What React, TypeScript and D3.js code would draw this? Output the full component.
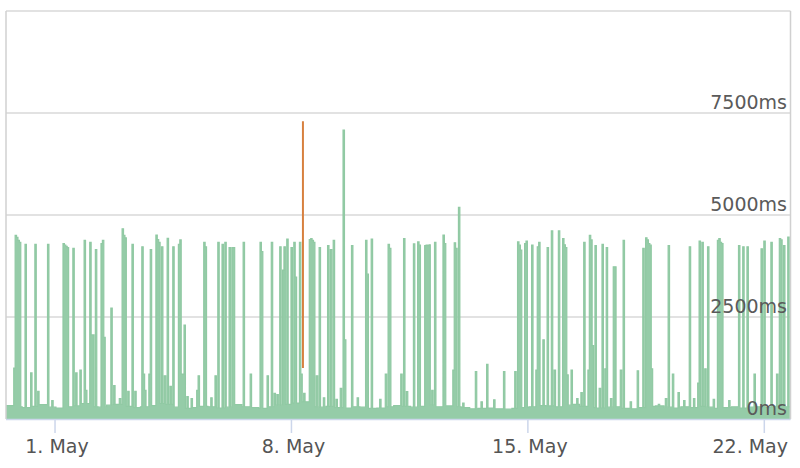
import React from "react";
import * as d3 from "d3";

// ---- data ----
// series start (hour 0) and end of x range
const startTime = Date.UTC(2019, 3, 29, 13, 10);
const endTime = Date.UTC(2019, 4, 22, 18, 37);

// baseline response time per 6-hour block (ms)
const baselineMs = [
  330, 300, 280, 310, 350, 290, 270, 300, 320, 380, 300, 290, 340, 360, 310, 280,
  300, 330, 380, 360, 290, 260, 280, 310, 300, 270, 290, 350, 300, 280, 260, 300,
  340, 360, 390, 420, 300, 290, 310, 280, 270, 300, 290, 260, 270, 300, 330, 310,
  290, 310, 340, 300, 320, 300, 280, 250, 260, 270, 250, 240, 260, 280, 300, 330,
  320, 300, 340, 360, 310, 280, 270, 290, 300, 260, 250, 280, 310, 320, 290, 270,
  300, 280, 310, 290, 260, 280, 300, 270, 290, 300, 280, 310, 300,
];

// hourly peaks: [hour index, response time ms]
const spikeHours = [
  6, 7, 8, 9, 10, 14, 18, 21, 23, 30, 33, 41, 42, 43, 44, 48, 50, 53, 56, 57,
  60, 61, 62, 64, 68, 69, 70, 75, 77, 81, 83, 84, 85, 87, 90, 92,
  97, 98, 99, 102, 103, 107, 108, 109, 111, 113, 115, 117, 119, 123, 124, 125, 126, 127,
  129, 132, 136, 137, 141, 142, 146, 149, 151, 154, 156, 159, 161, 162, 169, 174, 181, 182, 186, 189,
  191, 193, 195, 197, 198, 200, 203, 205, 206, 209, 210, 212, 216, 217, 218, 219, 221, 223,
  226, 229, 231, 233, 235, 238, 240, 241, 246, 250, 256, 257, 260, 266, 270, 272, 273, 281, 283,
  285, 290, 293, 294, 298, 299, 300, 301, 303, 305, 311, 312, 318, 319, 320, 322,
  325, 334, 338, 342, 347, 354, 362, 364, 365, 366, 369, 370, 374, 377, 378,
  379, 382, 385, 388, 390, 393, 396, 397, 398, 399, 402, 406, 409, 411, 414, 415, 416, 417,
  419, 422, 424, 426, 427, 430, 432, 433, 437, 439, 444, 449, 453, 455, 456, 457, 458, 459,
  464, 469, 471, 474, 478, 482, 486, 489, 492, 493, 495, 497, 499, 503, 506, 507, 508, 509,
  514, 521, 524, 527, 532, 537, 539, 544, 548, 550, 551, 553, 556,
];
const spikeMs = [
  1250, 4500, 4450, 4380, 4330, 4280, 1130, 4280, 680, 4280, 450, 4300, 4260, 4230, 4200, 4180, 1130, 1200, 4380, 700,
  4330, 2060, 2060, 4150, 4300, 4380, 2000, 2720, 820, 500, 4660, 4500, 4440, 680, 4280, 680,
  4220, 1100, 700, 1100, 4150, 4510, 4400, 4330, 4220, 1060, 4430, 800, 4220, 4280, 4390, 1100, 1100, 2300,
  550, 500, 700, 1060, 4330, 4220, 520, 1060, 4330, 4280, 4330, 4200, 4200, 4200, 4330, 1100, 4330, 4100, 1060, 4330,
  630, 600, 4220, 3650, 4220, 4410, 4200, 4330, 3480, 4330, 1100, 630, 4400, 4420, 4380, 4330, 1060, 4200,
  520, 4250, 4150, 4380, 480, 750, 7080, 1940, 4250, 520, 4380, 3550, 4410, 480, 1100, 4280, 4180, 1100, 4420,
  670, 4290, 4340, 4260, 4250, 4260, 4250, 4270, 700, 4330, 4510, 4300, 1200, 4320, 4180, 5190,
  390, 1160, 420, 1340, 470, 1160, 1160, 4340, 4260, 4140, 4300, 4360, 4260, 1200, 4220,
  4330, 1940, 4200, 4610, 1200, 4610, 4420, 4270, 4200, 1080, 1200, 500, 650, 4330, 1200, 4500, 4390, 1800,
  4250, 750, 4280, 1230, 4200, 500, 3730, 3730, 1200, 4380, 420, 1180, 4180, 4440, 4390, 4300, 4260, 1230,
  360, 500, 4250, 1100, 650, 450, 4220, 500, 880, 4360, 4330, 1230, 4220, 480, 4380, 4420, 4330, 4300,
  450, 4250, 4220, 4220, 1100, 4170, 4360, 4330, 1100, 4420, 4390, 4250, 4460,
];

// the single outlier range (orange): [hour index, low ms, high ms]
const outlierHour = [211];
const outlierLow = [1250];
const outlierHigh = [7300];

const yTicks = [0, 2500, 5000, 7500, 10000];
const xTickDates = [
  Date.UTC(2019, 4, 1),
  Date.UTC(2019, 4, 8),
  Date.UTC(2019, 4, 15),
  Date.UTC(2019, 4, 22),
];

// ---- build hourly series ----
const HOUR = 3600 * 1000;
const spikeMap = new Map<number, number>();
spikeHours.forEach((h, i) => spikeMap.set(h, spikeMs[i]));
const series = baselineMs.flatMap((b, block) =>
  [0, 1, 2, 3, 4, 5].map((k) => {
    const h = block * 6 + k;
    return { t: startTime + h * HOUR, v: spikeMap.has(h) ? (spikeMap.get(h) as number) : b };
  })
);

const W = 800;
const H = 468;
const left = 6;
const right = 790.5;
const top = 11;
const bottom = 419;
const FONT = "'DejaVu Sans', Verdana, sans-serif";

export default function App() {
  const x = d3.scaleUtc().domain([startTime, endTime]).range([left, right]);
  const y = d3.scaleLinear().domain([0, 10000]).range([bottom, top]);

  const area = d3
    .area<{ t: number; v: number }>()
    .x((d) => x(d.t))
    .y0(bottom)
    .y1((d) => y(d.v))
    .curve(d3.curveStep);
  const line = d3
    .line<{ t: number; v: number }>()
    .x((d) => x(d.t))
    .y((d) => y(d.v))
    .curve(d3.curveStep);

  const fmt = d3.utcFormat("%-d. %b");

  return (
    <svg
      width={W}
      height={H}
      style={{ position: "absolute", left: 0, top: 0, background: "#fff" }}
      fontFamily={FONT}
    >
      <defs>
        <clipPath id="plot">
          <rect x={left} y={top} width={right - left} height={bottom - top} />
        </clipPath>
      </defs>
      {/* grid lines */}
      {yTicks.map((t) => (
        <line key={t} x1={left} x2={right} y1={y(t)} y2={y(t)} stroke="#d8d8d8" strokeWidth={1.5} />
      ))}
      {/* data */}
      <g clipPath="url(#plot)">
        <path d={area(series) || ""} fill="#95cca8" />
        <path d={line(series) || ""} fill="none" stroke="#90c9a3" strokeWidth={1.2} />
        {outlierHour.map((h, i) => (
          <line
            key={i}
            x1={x(startTime + h * HOUR)}
            x2={x(startTime + h * HOUR)}
            y1={y(outlierLow[i])}
            y2={y(outlierHigh[i])}
            stroke="#d7803f"
            strokeWidth={2}
          />
        ))}
      </g>
      {/* plot border */}
      <line x1={left} x2={left} y1={top} y2={bottom} stroke="#d0d0d0" strokeWidth={1.5} />
      <line x1={right} x2={right} y1={top} y2={bottom} stroke="#d0d0d0" strokeWidth={1.5} />
      {/* x axis */}
      <line x1={left} x2={right} y1={bottom + 0.5} y2={bottom + 0.5} stroke="#ccd6eb" strokeWidth={1.5} />
      {xTickDates.map((d, i) => {
        const last = i === xTickDates.length - 1;
        return (
          <g key={d}>
            <line x1={x(d)} x2={x(d)} y1={bottom} y2={bottom + 14} stroke="#ccd6eb" strokeWidth={1.5} />
            <text
              x={last ? 788 : x(d) + 2}
              y={453}
              textAnchor={last ? "end" : "middle"}
              fontSize={19}
              fill="#555"
            >
              {fmt(new Date(d))}
            </text>
          </g>
        );
      })}
      {/* y labels */}
      {yTicks
        .filter((t) => t < 10000)
        .map((t) => (
          <text key={t} x={787} y={y(t) - 4} textAnchor="end" fontSize={19} fill="#5a5a5a">
            {t}ms
          </text>
        ))}
    </svg>
  );
}
